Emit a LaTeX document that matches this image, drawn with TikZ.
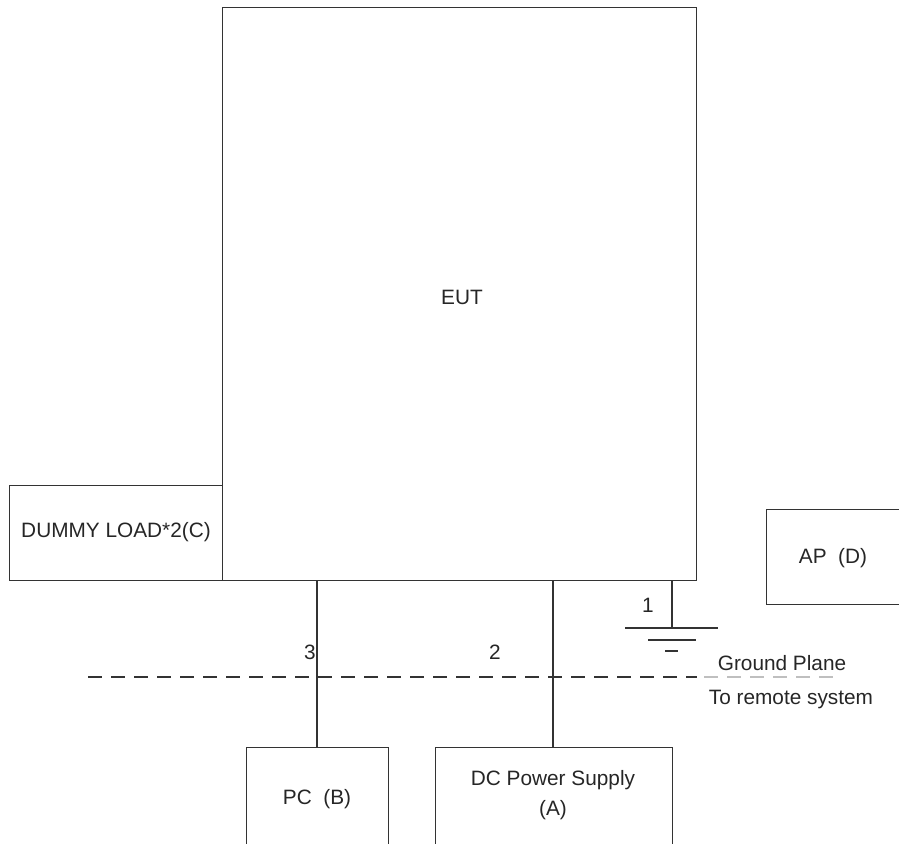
\documentclass[tikz,border=0pt]{standalone}
\usepackage{fontspec}
\setmainfont{Liberation Sans}
\begin{document}
\begin{tikzpicture}[x=1pt,y=-1pt,
  box/.style={draw=black!80, line width=1.4pt, inner sep=0pt},
  wire/.style={draw=black!80, line width=1.4pt},
  lbl/.style={font=\fontsize{20.8}{25}\selectfont, inner sep=0pt, text=black!85},
  gdash/.style={line width=1.5pt, dash pattern=on 14pt off 9pt}]
\useasboundingbox (0,0) rectangle (899,843);
\clip (0,0) rectangle (899,843);
% boxes (corners)
\node[box, minimum width=474pt, minimum height=573pt, anchor=north west] (eut) at (222,7) {};
\node[lbl] at (462,297) {EUT};
\node[box, minimum width=213pt, minimum height=95pt, anchor=north west] (dummy) at (9,485) {};
\node[lbl] at (116,532) {DUMMY LOAD*2(C)};
\node[box, minimum width=150pt, minimum height=95pt, anchor=north west] (ap) at (766,509) {};
\node[lbl] at (833,558) {AP\ \ (D)};
\node[box, minimum width=142pt, minimum height=120pt, anchor=north west] (pc) at (246,747) {};
\node[lbl] at (317,799) {PC\ \ (B)};
\node[box, minimum width=237pt, minimum height=120pt, anchor=north west] (dc) at (435,747) {};
\node[lbl] at (553,780) {DC Power Supply};
\node[lbl] at (553,810) {(A)};
% wires
\coordinate (e3) at (317,580);
\coordinate (e2) at (553,580);
\coordinate (e1) at (672,580);
\coordinate (g1) at (672,628);
\coordinate (p3) at (317,747);
\coordinate (p2) at (553,747);
\draw[wire] (e3) -- (p3);
\draw[wire] (e2) -- (p2);
\draw[wire] (e1) -- (g1);
\draw[wire] (625,628) -- (718,628);
\draw[wire] (648,640) -- (696,640);
\draw[wire] (665,651) -- (678,651);
\node[lbl] at (648,605) {1};
\node[lbl] at (310,652) {3};
\node[lbl] at (495,652) {2};
% ground plane
\draw[gdash, black!80] (88,677) -- (697,677);
\draw[gdash, black!25] (704,677) -- (840,677);
\node[lbl] at (782,663) {Ground Plane};
\node[lbl] at (791,699) {To remote system};
\end{tikzpicture}
\end{document}
